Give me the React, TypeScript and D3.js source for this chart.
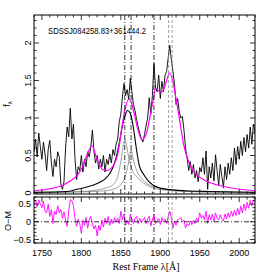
import React from "react";
import * as d3 from "d3";

// observed spectrum, sampled every 2 A from 1740 A
const specStart = 1740;
const specStep = 2;
const specFlux = [
  0.55, 0.72, 0.48, 0.80, 0.62, 0.45, 0.68, 0.52, 0.30, 0.58,
  0.70, 0.40, 0.22, 0.45, 0.35, 0.55, 0.48, 0.12, 0.05, 0.15,
  0.60, 0.88, 0.75, 1.13, 0.72, 0.92, 0.45, 0.18, 0.35, 0.30,
  0.50, 0.28, 0.45, 0.35, 0.55, 0.48, 0.62, 0.84, 0.55, 0.40,
  0.50, 0.32, 0.45, 0.35, 0.50, 0.28, 0.45, 0.38, 0.52, 0.40,
  0.58, 0.50, 0.65, 0.72, 0.95, 1.05, 1.28, 1.46, 1.30, 1.38,
  1.25, 1.53, 1.35, 1.18, 1.10, 0.98, 0.88, 0.80, 0.72, 0.68,
  0.78, 0.90, 1.00, 1.27, 1.05, 1.30, 1.73, 1.40, 1.35, 1.57,
  1.26, 1.49, 1.35, 1.57, 1.62, 1.80, 1.97, 1.78, 1.62, 1.45,
  1.18, 1.26, 1.09, 1.00, 1.02, 0.84, 0.60, 0.47, 0.30, 0.42,
  0.25, 0.38, 0.20, 0.30, 0.15, 0.34, 0.28, 0.47, 0.25, 0.56,
  0.05, 0.35, 0.20, 0.40, 0.16, 0.51, 0.30, 0.10, 0.38, 0.22,
  0.07, 0.35, 0.18, 0.40, 0.25, 0.47, 0.30, 0.60, 0.38, 0.62,
  0.45, 0.69, 0.50, 0.74, 0.55, 0.78, 0.60, 0.88, 0.65, 0.92,
  0.80,
];

// observed minus model, same sampling
const residual = [
  0.50, 0.60, 0.42, 0.62, 0.50, 0.40, 0.58, 0.30, 0.25, 0.50,
  0.15, 0.35, -0.05, 0.30, 0.20, 0.45, 0.25, 0.35, 0.10, 0.28,
  0.05, -0.13, 0.30, 0.63, 0.60, 0.45, 0.10, -0.13, 0.08, -0.05,
  -0.33, 0.05, -0.10, 0.12, -0.18, 0.05, 0.15, -0.05, -0.20, -0.10,
  -0.40, -0.10, -0.25, 0.05, -0.15, 0.10, -0.05, 0.15, -0.10, 0.08,
  -0.05, 0.12, 0.00, 0.10, -0.05, 0.30, 0.05, 0.22, -0.10, 0.05,
  -0.08, 0.20, 0.08, -0.05, 0.10, 0.15, -0.05, 0.10, -0.02, 0.05,
  0.12, -0.05, 0.08, 0.15, -0.12, 0.05, 0.22, -0.05, 0.02, 0.10,
  -0.08, 0.12, 0.00, 0.08, -0.05, 0.15, 0.30, 0.12, -0.18, 0.02,
  -0.10, 0.05, 0.08, 0.12, 0.00, 0.05, -0.18, -0.05, -0.12, 0.02,
  -0.08, 0.05, -0.05, 0.10, 0.02, 0.25, 0.10, 0.18, 0.05, 0.30,
  -0.05, 0.20, 0.05, 0.22, 0.00, 0.25, 0.10, 0.05, 0.20, 0.08,
  0.02, 0.22, 0.08, 0.25, 0.12, 0.30, 0.15, 0.32, 0.18, 0.38,
  0.20, 0.44, 0.25, 0.50, 0.32, 0.55, 0.38, 0.60, 0.45, 0.62,
  0.55,
];

// total model fit
const fitWave = [1740, 1773, 1785.6, 1795.8, 1802.1, 1807.2, 1813.5, 1819.8, 1827.5, 1832.5,
  1840.1, 1846.5, 1851.5, 1855.3, 1859.8, 1862.9, 1866.7, 1871.8, 1876.9, 1882,
  1887, 1891.2, 1894.2, 1898.4, 1902.6, 1907.3, 1911.7, 1916.5, 1920.9, 1925,
  1929.2, 1933.5, 1941.9, 1954.6, 1971.6, 1988.4, 2020];
const fitFlux = [0.03, 0.09, 0.16, 0.25, 0.36, 0.51, 0.63, 0.45, 0.31, 0.30,
  0.36, 0.54, 0.89, 1.11, 1.25, 1.22, 1.07, 0.84, 0.71, 0.78,
  1.02, 1.25, 1.40, 1.36, 1.35, 1.48, 1.60, 1.46, 1.20, 0.94,
  0.67, 0.49, 0.29, 0.18, 0.11, 0.07, 0.03];

// broad component (black)
const broadWave = [1740, 1781.8, 1794.5, 1803.4, 1813.5, 1824.5, 1831.3, 1837.2, 1841.4, 1845.6,
  1849, 1851.9, 1855.3, 1858.5, 1861.7, 1865.5, 1869.3, 1873.1, 1879.4, 1885.8,
  1898.4, 1912.4, 1931.4, 1963, 2020];
const broadFlux = [0.01, 0.02, 0.05, 0.07, 0.10, 0.15, 0.20, 0.28, 0.38, 0.54,
  0.72, 0.89, 1.03, 1.10, 1.07, 0.90, 0.62, 0.38, 0.24, 0.15,
  0.07, 0.045, 0.03, 0.02, 0.01];

// narrow components (grey)
const comp1Wave = [1740, 1800, 1820, 1832, 1840, 1846, 1850.5, 1853, 1855.3, 1857.5, 1859.5, 1864, 1870, 1878, 1890, 1910, 1950, 2020];
const comp1Flux = [0.005, 0.02, 0.04, 0.07, 0.11, 0.22, 0.45, 0.62, 0.71, 0.62, 0.50, 0.32, 0.22, 0.14, 0.07, 0.035, 0.015, 0.005];
const comp2Wave = [1740, 1800, 1830, 1845, 1852, 1857, 1860, 1862.9, 1866, 1870, 1876, 1884, 1896, 1920, 1960, 2020];
const comp2Flux = [0.005, 0.015, 0.03, 0.07, 0.14, 0.27, 0.42, 0.58, 0.44, 0.30, 0.20, 0.12, 0.07, 0.035, 0.015, 0.005];

const dashDotLines = [1855, 1863, 1892];
const dashedLines = [1910.5, 1915];

const xMajor = [1750, 1800, 1850, 1900, 1950, 2000];
const yMajor = [0, 0.5, 1, 1.5, 2];
const rMajor = [-0.5, 0, 0.5];
const title = "SDSSJ084258.83+361444.2";

const L = 34, R = 255, T = 15, B = 194, RT = 197, RB = 243;

export default function App() {
  const x = d3.scaleLinear().domain([1740, 2020]).range([L, R]);
  const y = d3.scaleLinear().domain([-0.013, 2.373]).range([B, T]);
  const yr = d3.scaleLinear().domain([-0.6, 0.7]).range([RB, RT]);

  const specPts = specFlux.map((f, i) => [specStart + i * specStep, f] as [number, number]);
  const resPts = residual.map((f, i) => [specStart + i * specStep, f] as [number, number]);
  const zip = (w: number[], f: number[]) => w.map((v, i) => [v, f[i]] as [number, number]);

  const raw = d3.line<[number, number]>().x((d) => x(d[0])).y((d) => y(d[1]));
  const smooth = d3.line<[number, number]>().x((d) => x(d[0])).y((d) => y(d[1])).curve(d3.curveMonotoneX);
  const rline = d3.line<[number, number]>().x((d) => x(d[0])).y((d) => yr(d[1]));

  const xMinor = d3.range(1740, 2021, 10);
  const yMinor = d3.range(0, 2.4, 0.1);
  const rMinor = d3.range(-0.6, 0.71, 0.1);

  const tickX = (top: number, bot: number, key: string) =>
    xMinor.map((v) => {
      const big = xMajor.includes(v);
      const len = big ? 5 : 2.5;
      return (
        <g key={key + v}>
          <line x1={x(v)} x2={x(v)} y1={bot} y2={bot - len} stroke="#000" strokeWidth={0.8} />
          <line x1={x(v)} x2={x(v)} y1={top} y2={top + len} stroke="#000" strokeWidth={0.8} />
        </g>
      );
    });

  const tickY = (scale: d3.ScaleLinear<number, number>, minor: number[], major: number[], key: string) =>
    minor.map((v) => {
      const big = major.some((m) => Math.abs(m - v) < 1e-6);
      const len = big ? 5 : 2.5;
      return (
        <g key={key + v.toFixed(2)}>
          <line x1={L} x2={L + len} y1={scale(v)} y2={scale(v)} stroke="#000" strokeWidth={0.8} />
          <line x1={R} x2={R - len} y1={scale(v)} y2={scale(v)} stroke="#000" strokeWidth={0.8} />
        </g>
      );
    });

  const font = "'Liberation Sans', Arial, sans-serif";

  return (
    <svg width={279} height={279} style={{ position: "absolute", left: 0, top: 0, background: "#fff" }}>
      <defs>
        <clipPath id="cm"><rect x={L} y={T} width={R - L} height={B - T} /></clipPath>
        <clipPath id="cr"><rect x={L} y={RT} width={R - L} height={RB - RT} /></clipPath>
      </defs>

      {/* main panel */}
      <g clipPath="url(#cm)">
        <path d={raw(specPts) ?? ""} fill="none" stroke="#000" strokeWidth={0.9} />
        <path d={smooth(zip(comp1Wave, comp1Flux)) ?? ""} fill="none" stroke="#777" strokeWidth={0.7} />
        <path d={smooth(zip(comp2Wave, comp2Flux)) ?? ""} fill="none" stroke="#777" strokeWidth={0.7} />
        <path d={smooth(zip(broadWave, broadFlux)) ?? ""} fill="none" stroke="#000" strokeWidth={1.1} />
        <path d={smooth(zip(fitWave, fitFlux)) ?? ""} fill="none" stroke="#f0f" strokeWidth={1.2} />
      </g>

      {/* residual panel */}
      <g clipPath="url(#cr)">
        <path d={rline(resPts) ?? ""} fill="none" stroke="#f0f" strokeWidth={0.9} />
        <line x1={L} x2={R} y1={yr(0)} y2={yr(0)} stroke="#000" strokeWidth={0.8} strokeDasharray="5,2,1,2" />
      </g>

      {/* line markers */}
      {[[T, B], [RT, RB]].map(([a, b], k) => (
        <g key={"m" + k}>
          {dashDotLines.map((w) => (
            <line key={w} x1={x(w)} x2={x(w)} y1={a} y2={b} stroke="#000" strokeWidth={0.8} strokeDasharray="5,2,1,2" />
          ))}
          {dashedLines.map((w) => (
            <line key={w} x1={x(w)} x2={x(w)} y1={a} y2={b} stroke="#888" strokeWidth={0.8} strokeDasharray="3,2" />
          ))}
        </g>
      ))}

      {/* frames and ticks */}
      <rect x={L} y={T} width={R - L} height={B - T} fill="none" stroke="#000" strokeWidth={1} />
      <rect x={L} y={RT} width={R - L} height={RB - RT} fill="none" stroke="#000" strokeWidth={1} />
      {tickX(T, B, "a")}
      {tickX(RT, RB, "b")}
      {tickY(y, yMinor, yMajor, "c")}
      {tickY(yr, rMinor, rMajor, "d")}

      {/* labels */}
      {yMajor.map((v) => (
        <text key={"yl" + v} transform={`translate(31,${y(v)}) rotate(-90)`} textAnchor="middle"
          fontFamily={font} fontSize={9}>{v}</text>
      ))}
      {rMajor.map((v) => (
        <text key={"rl" + v} x={31} y={yr(v) + 3.3} textAnchor="end" fontFamily={font} fontSize={9}>
          {v < 0 ? "\u2212" + Math.abs(v) : v}
        </text>
      ))}
      {xMajor.map((v) => (
        <text key={"xl" + v} x={x(v)} y={256} textAnchor="middle" fontFamily={font} fontSize={9}>{v}</text>
      ))}
      <text x={146} y={270} textAnchor="middle" fontFamily="'Liberation Serif', serif" fontSize={10}>
        Rest Frame λ[Å]
      </text>
      <text transform="translate(10,104) rotate(-90)" textAnchor="middle" fontFamily={font} fontSize={9}>
        f<tspan fontSize={6} dy={2}>λ</tspan>
      </text>
      <text transform="translate(11,221) rotate(-90)" textAnchor="middle" fontFamily={font} fontSize={9}>
        O{"\u2212"}M
      </text>
      <text x={48} y={34} fontFamily={font} fontSize={9} textLength={98} lengthAdjust="spacingAndGlyphs">
        {title}
      </text>
    </svg>
  );
}
